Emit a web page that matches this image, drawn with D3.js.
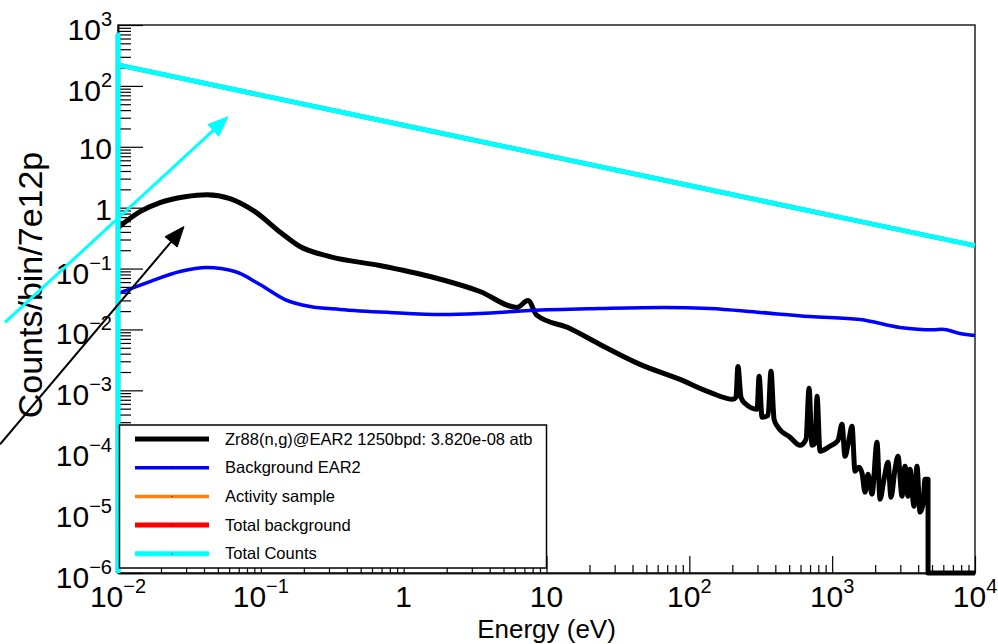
<!DOCTYPE html>
<html>
<head>
<meta charset="utf-8">
<script src="https://cdn.jsdelivr.net/npm/d3@7"></script>
<style>
  html, body { margin: 0; padding: 0; background: #fff; }
  svg { display: block; font-family: "Liberation Sans", Arial, Helvetica, sans-serif; }
</style>
</head>
<body>
<svg id="chart" width="998" height="644"></svg>
<script>
// ---- axis ranges and tick labels ----
const xDomain = [1e-2, 1e4];
const yDomain = [1e-6, 1e3];
const xMajorTicks = [1e-2, 1e-1, 1, 10, 1e2, 1e3, 1e4];
const xTickLabels = [["10", "−2"], ["10", "−1"], ["1", ""], ["10", ""], ["10", "2"], ["10", "3"], ["10", "4"]];
const yMajorTicks = [1e-6, 1e-5, 1e-4, 1e-3, 1e-2, 1e-1, 1, 10, 1e2, 1e3];
const yTickLabels = [["10", "−6"], ["10", "−5"], ["10", "−4"], ["10", "−3"], ["10", "−2"], ["10", "−1"], ["1", ""], ["10", ""], ["10", "2"], ["10", "3"]];
const xTitle = "Energy (eV)";
const yTitle = "Counts/bin/7e12p";

// ---- series: Zr88(n,g) capture yield ----
const zrEnergy = [0.01, 0.01426, 0.01968, 0.02944, 0.042, 0.0608, 0.091, 0.136, 0.188, 0.305, 0.682, 1.53, 3.42,
  6.22, 7.42, 8.58, 14.6, 23.7, 45.2, 86.1, 139.6, 202, 212, 219, 230, 245, 298, 308, 323, 356, 373, 392, 418,
  507, 596, 656, 689, 723, 759, 784, 822, 966, 1099, 1172, 1230, 1312, 1377, 1445, 1542, 1618, 1699, 1783, 1901,
  2061, 2163, 2307, 2460, 2582, 2754, 2891, 3083, 3236, 3396, 3508, 3741, 3926, 4121, 4325, 4467, 4690, 4691, 10000];
const zrCounts = [0.47, 0.86, 1.21, 1.51, 1.63, 1.41, 0.86, 0.40, 0.23, 0.157, 0.112, 0.074, 0.042,
  0.0230, 0.0299, 0.0170, 0.01038, 0.00567, 0.00267, 0.00151, 9.27e-4, 7.11e-4, 7.67e-4, 2.47e-3, 7.67e-4, 6.12e-4, 4.89e-4, 1.70e-3, 3.61e-4, 3.89e-4, 2.05e-3, 3.35e-4, 2.47e-4,
  1.70e-4, 1.25e-4, 1.57e-4, 1.08e-3, 1.25e-4, 1.35e-4, 7.98e-4, 1.0e-4, 1.21e-4, 1.51e-4, 2.77e-4, 8.28e-5, 1.57e-4, 2.57e-4, 4.70e-5, 5.47e-5, 4.36e-5, 2.13e-5, 4.20e-5, 1.97e-5,
  1.41e-4, 1.63e-5, 3.48e-5, 6.61e-5, 1.76e-5, 5.07e-5, 8.28e-5, 1.83e-5, 5.68e-5, 1.83e-5, 5.07e-5, 1.25e-5, 5.68e-5, 1.0e-5, 1.35e-5, 3.48e-5, 3.48e-5, 0, 0];

// ---- series: EAR2 background ----
const bgEnergy = [0.01, 0.01675, 0.0272, 0.042, 0.0659, 0.0986, 0.1476, 0.221, 0.358, 0.80, 1.88, 3.42, 7.67, 23.7,
  65.5, 139.6, 313, 700, 1567, 2985, 5082, 5875, 7852, 10000];
const bgCounts = [0.0389, 0.0612, 0.0893, 0.1038, 0.0893, 0.0547, 0.0310, 0.0238, 0.0213, 0.0190, 0.0176, 0.0183, 0.0205, 0.0221,
  0.0230, 0.0221, 0.0190, 0.0163, 0.0146, 0.0108, 0.00985, 0.0101, 0.0086, 0.00798];

// ---- series: total background and total counts ----
const totalEnergy = [0.01, 0.01, 0.01, 0.1, 1, 10, 100, 1000, 10000];
const totalBgCounts = [0, 685, 221, 70.5, 22.6, 7.22, 2.31, 0.74, 0.238];
const totalCounts = [0, 685, 221, 70.5, 22.6, 7.22, 2.31, 0.74, 0.238];

// ---- annotation arrows (tail, head) ----
const cyanArrowEnergy = [0.001618, 0.0589];
const cyanArrowCounts = [0.01303, 31.0];
const blackArrowEnergy = [0.001493, 0.02897];
const blackArrowCounts = [1.30e-4, 0.489];

// ---- legend ----
const legendLabels = ["Zr88(n,g)@EAR2 1250bpd: 3.820e-08 atb", "Background EAR2", "Activity sample", "Total background", "Total Counts"];
const legendColors = ["#000000", "#0000ff", "#ff7f0e", "#ff0000", "#00ffff"];
const legendWidths = [5, 3.5, 3.5, 5, 5];

// ---- layout ----
const plot = { left: 118, right: 975, top: 25, bottom: 573 };

const svg = d3.select("#chart");
const x = d3.scaleLog().domain(xDomain).range([plot.left, plot.right]);
const y = d3.scaleLog().domain(yDomain).range([plot.bottom, plot.top]);
const yv = v => y(Math.max(v, yDomain[0]));

// minor tick positions 2..9 per decade
function minorTicks(domain) {
  const out = [];
  const lo = Math.round(Math.log10(domain[0])), hi = Math.round(Math.log10(domain[1]));
  for (let d = lo; d < hi; d++) for (let k = 2; k <= 9; k++) out.push(k * Math.pow(10, d));
  return out;
}

// frame
svg.append("rect")
  .attr("x", plot.left).attr("y", plot.top)
  .attr("width", plot.right - plot.left).attr("height", plot.bottom - plot.top)
  .attr("fill", "none").attr("stroke", "#222").attr("stroke-width", 1.5);

// x axis
const gxMinor = svg.append("g").attr("transform", `translate(0,${plot.bottom})`)
  .call(d3.axisBottom(x).tickValues(minorTicks(xDomain)).tickSize(-8).tickSizeOuter(0).tickFormat(""));
const gxMajor = svg.append("g").attr("transform", `translate(0,${plot.bottom})`)
  .call(d3.axisBottom(x).tickValues(xMajorTicks).tickSize(-17).tickSizeOuter(0).tickFormat(""));
// y axis
const gyMinor = svg.append("g").attr("transform", `translate(${plot.left},0)`)
  .call(d3.axisLeft(y).tickValues(minorTicks(yDomain)).tickSize(-13).tickSizeOuter(0).tickFormat(""));
const gyMajor = svg.append("g").attr("transform", `translate(${plot.left},0)`)
  .call(d3.axisLeft(y).tickValues(yMajorTicks).tickSize(-25).tickSizeOuter(0).tickFormat(""));
[gxMinor, gxMajor, gyMinor, gyMajor].forEach(g => {
  g.selectAll("line").attr("stroke", "#000").attr("stroke-width", 1.2);
  g.select(".domain").attr("stroke", "#111").attr("stroke-width", 1.5);
});

// tick labels with superscript exponents
function addLabel(g, parts, anchor) {
  g.attr("text-anchor", anchor).attr("font-size", 30).attr("fill", "#000");
  g.append("tspan").text(parts[0]);
  if (parts[1]) g.append("tspan").attr("font-size", 20).attr("dy", -14).text(parts[1]);
}
xMajorTicks.forEach((v, i) => {
  const t = svg.append("text").attr("x", x(v)).attr("y", 607);
  addLabel(t, xTickLabels[i], "middle");
});
yMajorTicks.forEach((v, i) => {
  const t = svg.append("text").attr("x", 112).attr("y", y(v) + (yTickLabels[i][1] ? 15 : 12));
  addLabel(t, yTickLabels[i], "end");
});

// axis titles
svg.append("text").attr("x", (plot.left + plot.right) / 2).attr("y", 638)
  .attr("text-anchor", "middle").attr("font-size", 26).text(xTitle);
svg.append("text").attr("transform", "translate(42,285) rotate(-90)")
  .attr("text-anchor", "middle").attr("font-size", 34).text(yTitle);

// curves
const smooth = d3.line().curve(d3.curveMonotoneX).x(d => x(d[0])).y(d => yv(d[1]));
const straight = d3.line().x(d => x(d[0])).y(d => yv(d[1]));
function drawSeries(es, cs, color, width, gen) {
  svg.append("path").datum(es.map((e, i) => [e, cs[i]]))
    .attr("d", gen).attr("fill", "none").attr("stroke", color)
    .attr("stroke-width", width).attr("stroke-linejoin", "round").attr("stroke-linecap", "butt");
}
drawSeries(zrEnergy, zrCounts, "#000000", 5, smooth);
drawSeries(bgEnergy, bgCounts, "#0000ff", 3.5, smooth);
drawSeries(totalEnergy, totalBgCounts, "#ff0000", 4.5, straight);
drawSeries(totalEnergy, totalCounts, "#00ffff", 5, straight);

// arrows
function drawArrow(es, cs, color, width, headLen, headHalf) {
  const x0 = x(es[0]), y0 = yv(cs[0]), x1 = x(es[1]), y1 = yv(cs[1]);
  const a = Math.atan2(y1 - y0, x1 - x0);
  const bx = x1 - headLen * Math.cos(a), by = y1 - headLen * Math.sin(a);
  svg.append("line").attr("x1", x0).attr("y1", y0).attr("x2", bx).attr("y2", by)
    .attr("stroke", color).attr("stroke-width", width);
  const px = -Math.sin(a) * headHalf, py = Math.cos(a) * headHalf;
  svg.append("path")
    .attr("d", `M${x1},${y1}L${bx + px},${by + py}L${bx - px},${by - py}Z`)
    .attr("fill", color).attr("stroke", color).attr("stroke-width", 1);
}
drawArrow(cyanArrowEnergy, cyanArrowCounts, "#00ffff", 3, 20, 8);
drawArrow(blackArrowEnergy, blackArrowCounts, "#000000", 2, 20, 8);

// legend
const lg = { x: 119.5, y: 425, w: 427, h: 143 };
svg.append("rect").attr("x", lg.x).attr("y", lg.y).attr("width", lg.w).attr("height", lg.h)
  .attr("fill", "#fff").attr("stroke", "#000").attr("stroke-width", 1.5);
legendLabels.forEach((lab, i) => {
  const cy = 439 + i * 28.7;
  svg.append("line").attr("x1", 135).attr("x2", 209).attr("y1", cy).attr("y2", cy)
    .attr("stroke", legendColors[i]).attr("stroke-width", legendWidths[i]);
  if (i > 0) svg.append("rect").attr("x", 171.5).attr("y", cy - 0.5).attr("width", 1).attr("height", 1).attr("fill", "#000");
  svg.append("text").attr("x", 225).attr("y", cy + 5.5).attr("font-size", 16.5).text(lab);
});
</script>
</body>
</html>
